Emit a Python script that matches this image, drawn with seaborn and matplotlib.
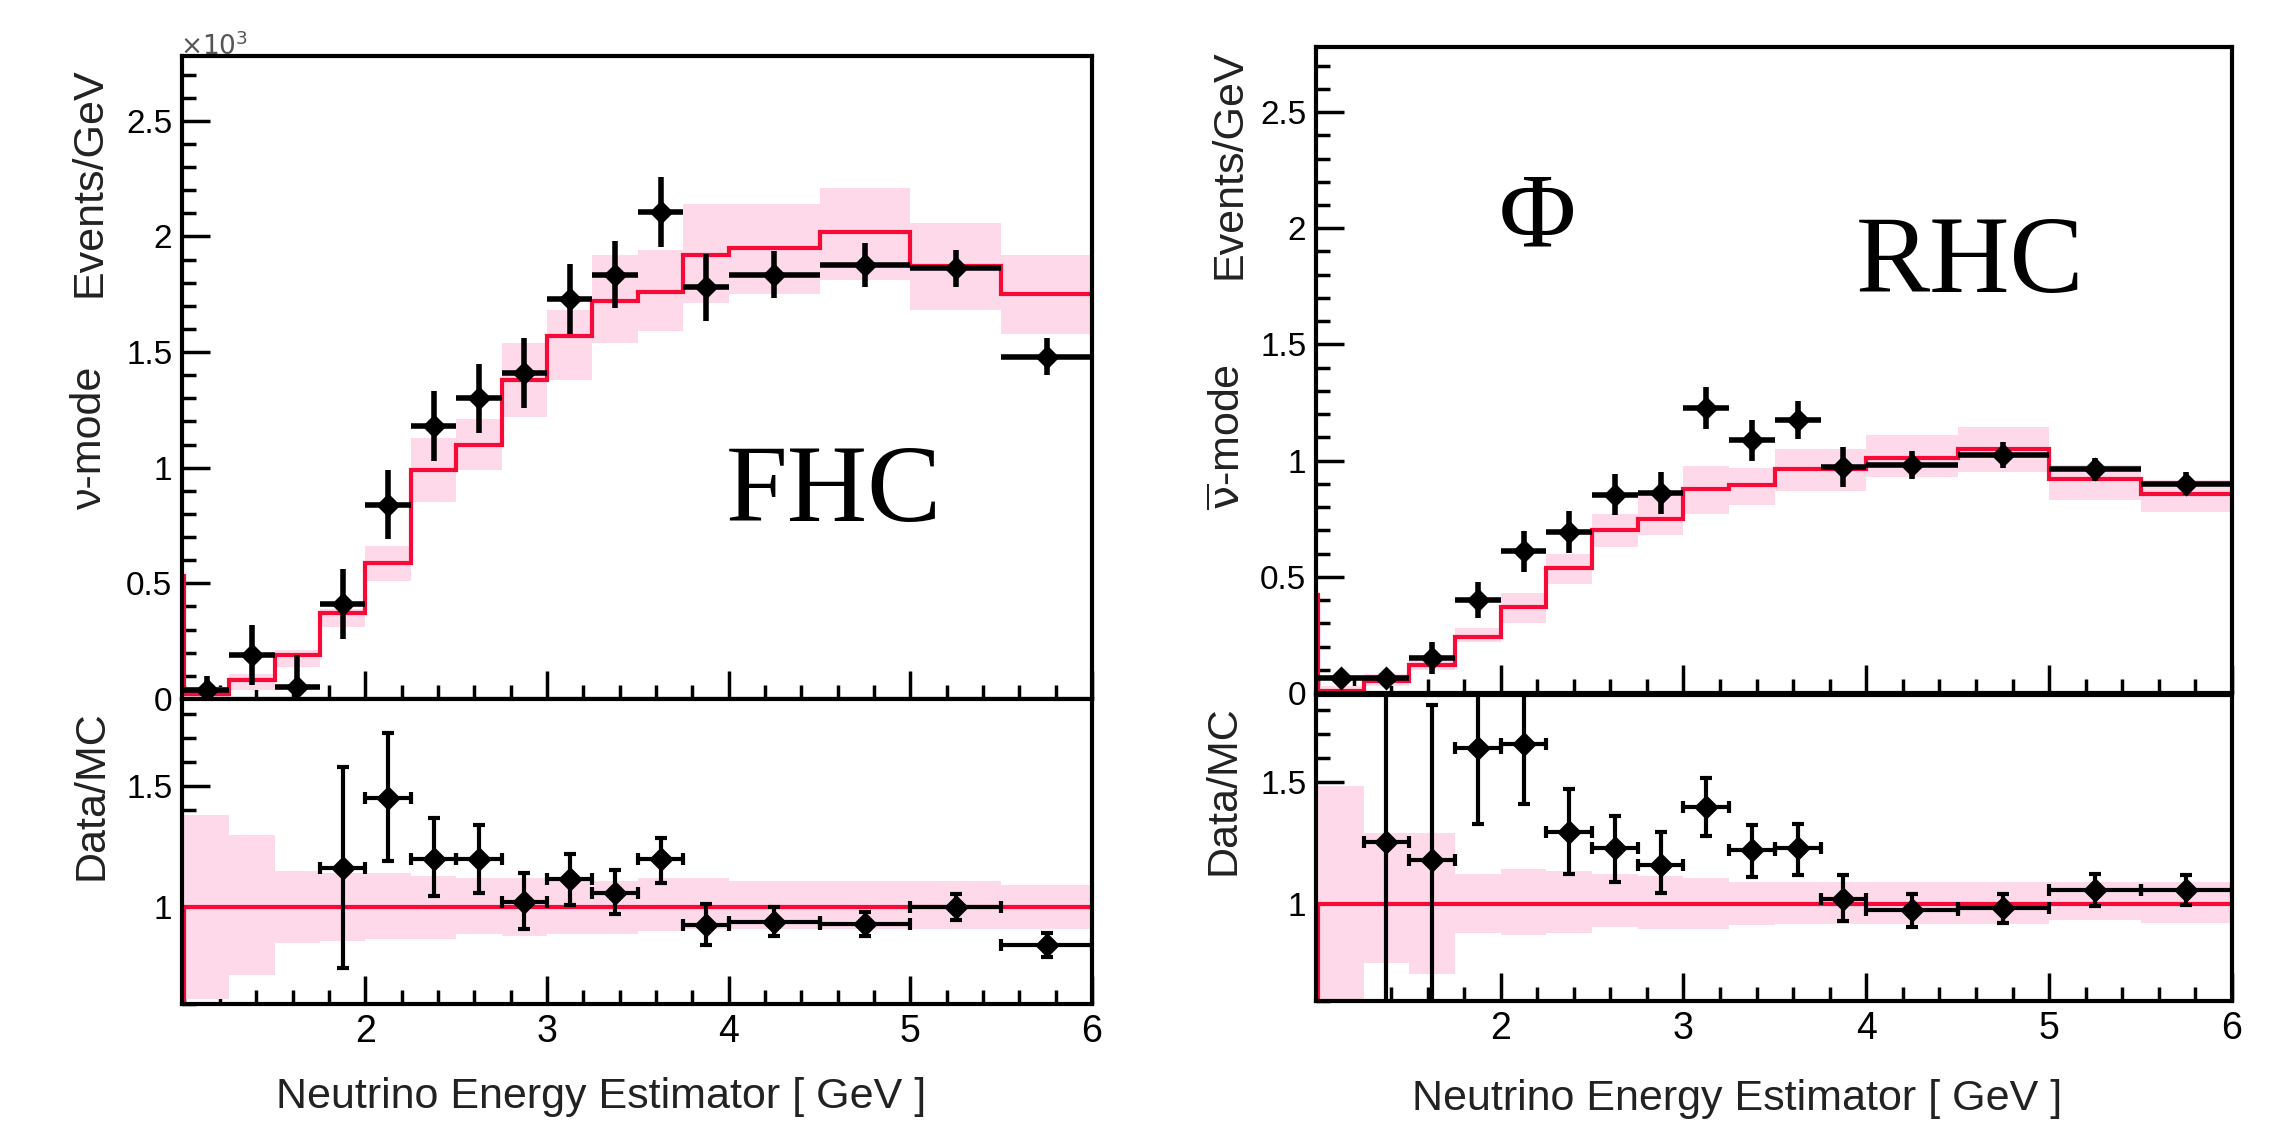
import numpy as np
import matplotlib
matplotlib.use('Agg')
import matplotlib.pyplot as plt
from matplotlib.ticker import MultipleLocator, FixedLocator
import seaborn as sns

# bin edges in GeV (0.75 = underflow edge that only shows as the spike at the left border)
edges = [1.0, 1.25, 1.5, 1.75, 2.0, 2.25, 2.5, 2.75, 3.0, 3.25, 3.5, 3.75, 4.0, 4.5, 5.0, 5.5, 6.0]
under_edge = 0.75

# ---- FHC (nu-mode), values in 10^3 events/GeV ----
fhc_mc = [0.02, 0.08, 0.19, 0.37, 0.59, 0.99, 1.10, 1.38, 1.57, 1.72, 1.76, 1.92, 1.95, 2.02, 1.87, 1.75]
fhc_mc_under = 0.53
fhc_band_lo = [0.0, 0.04, 0.14, 0.31, 0.51, 0.85, 0.99, 1.22, 1.38, 1.54, 1.59, 1.71, 1.75, 1.81, 1.68, 1.58]
fhc_band_hi = [0.05, 0.11, 0.21, 0.39, 0.66, 1.13, 1.21, 1.54, 1.68, 1.92, 1.94, 2.14, 2.14, 2.21, 2.06, 1.92]
fhc_data = [0.04, 0.19, 0.05, 0.41, 0.84, 1.18, 1.30, 1.41, 1.73, 1.835, 2.105, 1.78, 1.835, 1.877, 1.863, 1.479]
fhc_data_err = [0.06, 0.13, 0.14, 0.15, 0.15, 0.15, 0.15, 0.15, 0.15, 0.145, 0.15, 0.145, 0.10, 0.095, 0.08, 0.08]
fhc_ratio = [np.nan, np.nan, np.nan, 1.16, 1.45, 1.20, 1.20, 1.02, 1.115, 1.06, 1.20, 0.925, 0.94, 0.93, 1.0, 0.845]
fhc_ratio_lo = [np.nan, np.nan, np.nan, 0.41, 0.26, 0.155, 0.14, 0.11, 0.105, 0.09, 0.10, 0.08, 0.06, 0.05, 0.055, 0.05]
fhc_ratio_hi = [np.nan, np.nan, np.nan, 0.42, 0.27, 0.17, 0.14, 0.12, 0.105, 0.095, 0.085, 0.09, 0.06, 0.05, 0.055, 0.05]
fhc_rband_lo = [0.62, 0.72, 0.85, 0.86, 0.87, 0.87, 0.89, 0.88, 0.89, 0.89, 0.90, 0.91, 0.91, 0.91, 0.91, 0.91]
fhc_rband_hi = [1.38, 1.30, 1.15, 1.14, 1.14, 1.13, 1.12, 1.12, 1.11, 1.11, 1.12, 1.12, 1.11, 1.11, 1.11, 1.09]

# ---- RHC (anti-nu-mode) ----
rhc_mc = [0.01, 0.05, 0.12, 0.24, 0.37, 0.54, 0.70, 0.75, 0.88, 0.895, 0.962, 0.965, 1.01, 1.05, 0.92, 0.856]
rhc_mc_under = 0.42
rhc_band_lo = [0.0, 0.03, 0.10, 0.22, 0.30, 0.47, 0.63, 0.68, 0.77, 0.81, 0.87, 0.87, 0.93, 0.95, 0.83, 0.78]
rhc_band_hi = [0.03, 0.08, 0.15, 0.28, 0.43, 0.60, 0.77, 0.85, 0.975, 0.97, 1.05, 1.05, 1.11, 1.145, 0.98, 0.915]
rhc_data = [0.063, 0.063, 0.15, 0.40, 0.61, 0.693, 0.854, 0.86, 1.225, 1.087, 1.174, 0.972, 0.981, 1.024, 0.962, 0.90]
rhc_data_err = [0.03, 0.03, 0.07, 0.077, 0.088, 0.09, 0.09, 0.09, 0.09, 0.087, 0.082, 0.085, 0.06, 0.055, 0.05, 0.05]
rhc_ratio = [np.nan, 1.254, 1.18, 1.64, 1.66, 1.295, 1.23, 1.16, 1.40, 1.22, 1.23, 1.02, 0.976, 0.982, 1.057, 1.057]
rhc_ratio_lo = [np.nan, 1.0, 1.0, 0.31, 0.25, 0.17, 0.14, 0.115, 0.12, 0.11, 0.11, 0.09, 0.07, 0.06, 0.065, 0.06]
rhc_ratio_hi = [np.nan, 1.0, 0.64, 0.31, 0.25, 0.18, 0.13, 0.135, 0.12, 0.105, 0.10, 0.10, 0.065, 0.06, 0.066, 0.062]
rhc_rband_lo = [0.60, 0.757, 0.71, 0.878, 0.872, 0.878, 0.905, 0.895, 0.895, 0.912, 0.919, 0.919, 0.919, 0.919, 0.935, 0.922]
rhc_rband_hi = [1.486, 1.29, 1.29, 1.124, 1.142, 1.135, 1.122, 1.115, 1.108, 1.092, 1.092, 1.088, 1.088, 1.088, 1.088, 1.088]

# MC/MC ratio line (underflow slot first)
ratio_mc = [0.0, 1, 1, 1, 1, 1, 1, 1, 1, 1, 1, 1, 1, 1, 1, 1, 1]

x_ticks = [2, 3, 4, 5, 6]
top_yticks = [0, 0.5, 1, 1.5, 2, 2.5]
ratio_yticks = [1, 1.5]

PINK = '#fdd9ea'
RED = '#f70a37'

sns.set_theme(style='white')
plt.rcParams['font.family'] = ['Liberation Sans', 'DejaVu Sans']
plt.rcParams['mathtext.fontset'] = 'dejavusans'

W, H = 2275, 1122
fig = plt.figure(figsize=(W / 100, H / 100), dpi=100)


def px(x, y):
    return x / W, 1 - y / H


def style_axis(ax, yticks, ymin, ymax, show_xlabels):
    ax.set_xlim(0.99, 6.0)
    ax.set_ylim(ymin, ymax)
    ax.xaxis.set_major_locator(FixedLocator(x_ticks))
    ax.xaxis.set_minor_locator(MultipleLocator(0.2))
    ax.yaxis.set_major_locator(FixedLocator(yticks))
    ax.yaxis.set_minor_locator(MultipleLocator(0.1))
    ax.tick_params(which='both', direction='in', top=False, right=False,
                   left=True, bottom=True, colors='black', width=2.5)
    ax.tick_params(which='major', length=20)
    ax.tick_params(which='minor', length=10)
    ax.tick_params(axis='y', labelsize=24, pad=7)
    ax.tick_params(axis='x', labelsize=27, pad=7, labelbottom=show_xlabels)
    ax.yaxis.set_major_formatter(plt.FuncFormatter(lambda v, p: f'{v:g}'))
    for s in ax.spines.values():
        s.set_color('black')
        s.set_linewidth(3)
    ax.set_facecolor('white')


def draw_panel(rect_top, rect_bot, mc, mc_under, blo, bhi, data, derr,
               ratio, rlo, rhi, rblo, rbhi):
    ax = fig.add_axes(rect_top)
    axr = fig.add_axes(rect_bot)
    centers = [(a + b) / 2 for a, b in zip(edges[:-1], edges[1:])]
    halfw = [(b - a) / 2 for a, b in zip(edges[:-1], edges[1:])]

    # top: MC band + MC histogram + data
    ax.stairs(bhi, edges, baseline=blo, fill=True, color=PINK, lw=0, zorder=1)
    ax.stairs([mc_under] + mc, [under_edge] + edges, baseline=None,
              color=RED, lw=3, zorder=2)
    ax.errorbar(centers, data, xerr=halfw, yerr=derr, fmt='none',
                ecolor='black', elinewidth=4, zorder=3)
    sns.scatterplot(x=centers, y=data, ax=ax, marker='D', s=150, color='black',
                    edgecolor='black', linewidth=0, legend=False, zorder=4)
    style_axis(ax, top_yticks, 0, 2.78, False)

    # bottom: ratio
    axr.stairs(rbhi, edges, baseline=rblo, fill=True, color=PINK, lw=0, zorder=1)
    axr.stairs(ratio_mc, [under_edge] + edges, baseline=None,
               color=RED, lw=3, zorder=2)
    axr.errorbar(centers, ratio, xerr=halfw, yerr=[rlo, rhi], fmt='none',
                 ecolor='black', elinewidth=3, capsize=4, capthick=3, zorder=3)
    sns.scatterplot(x=centers, y=ratio, ax=axr, marker='D', s=160, color='black',
                    edgecolor='black', linewidth=0, legend=False, zorder=4)
    style_axis(axr, ratio_yticks, 0.6, 1.86, True)
    return ax, axr


draw_panel([182 / W, 1 - 699 / H, 910 / W, 643 / H],
           [182 / W, 1 - 1004 / H, 910 / W, 305 / H],
           fhc_mc, fhc_mc_under, fhc_band_lo, fhc_band_hi, fhc_data, fhc_data_err,
           fhc_ratio, fhc_ratio_lo, fhc_ratio_hi, fhc_rband_lo, fhc_rband_hi)
draw_panel([1316 / W, 1 - 693 / H, 916 / W, 646 / H],
           [1316 / W, 1 - 1001 / H, 916 / W, 306 / H],
           rhc_mc, rhc_mc_under, rhc_band_lo, rhc_band_hi, rhc_data, rhc_data_err,
           rhc_ratio, rhc_ratio_lo, rhc_ratio_hi, rhc_rband_lo, rhc_rband_hi)

lab = dict(rotation=90, rotation_mode='anchor', ha='right', va='baseline',
           fontsize=31, color='#222222')
# left panel labels
fig.text(*px(101, 67), 'Events/GeV', **lab)
fig.text(*px(101, 366), 'ν-mode', **lab)
fig.text(*px(103, 710), 'Data/MC', **lab)
fig.text(*px(276, 1108), 'Neutrino Energy Estimator [ GeV ]', fontsize=31,
         ha='left', va='baseline', color='#222222')
fig.text(*px(180, 55), r'$\times10^{3}$', fontsize=19, ha='left',
         va='baseline', color='#555555')
fig.text(*px(834, 494), 'FHC', fontsize=80, family='Liberation Serif',
         ha='center', va='center', color='black')

# right panel labels
fig.text(*px(1240, 49), 'Events/GeV', **lab)
fig.text(*px(1240, 364), r'$\overline{\mathrm{\nu}}$-mode', **lab)
fig.text(*px(1235, 705), 'Data/MC', **lab)
fig.text(*px(1412, 1110), 'Neutrino Energy Estimator [ GeV ]', fontsize=31,
         ha='left', va='baseline', color='#222222')
fig.text(*px(1970, 265), 'RHC', fontsize=80, family='Liberation Serif',
         ha='center', va='center', color='black')
fig.text(*px(1537, 221), 'Φ', fontsize=76, family='Liberation Serif',
         ha='center', va='center', color='black')

plt.savefig('out.png', dpi=100, facecolor='white')
